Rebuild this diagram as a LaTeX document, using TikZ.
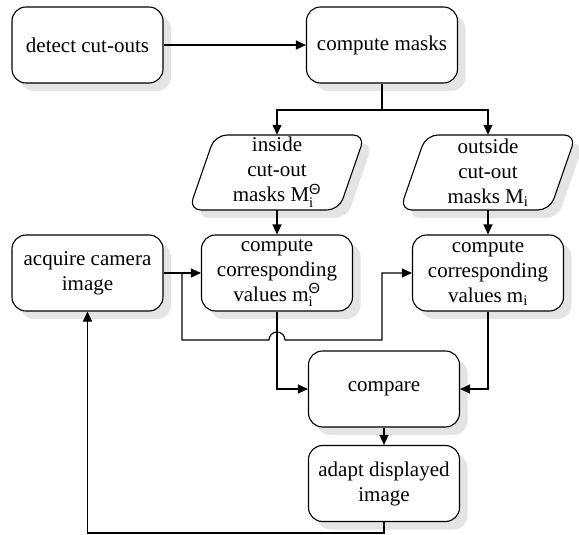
\documentclass[tikz,border=0pt]{standalone}
\usepackage{fontspec}
\setmainfont{Liberation Serif}
\newfontfamily\thetafont{Liberation Sans}
\usepackage{amsmath}
\usetikzlibrary{shadows,arrows.meta,calc}
\definecolor{shadowgray}{HTML}{E4E4E4}
\newcommand\paraboxshape[2]{%
  \fill[shadowgray,rounded corners=12pt] (#1-80,#2+45.5) -- (#1+70,#2+45.5) -- (#1+96,#2-29.5) -- (#1-54,#2-29.5) -- cycle;
  \draw[line width=1.1pt,fill=white,rounded corners=12pt] (#1-88,#2+37.5) -- (#1+62,#2+37.5) -- (#1+88,#2-37.5) -- (#1-62,#2-37.5) -- cycle;}
\begin{document}
\begin{tikzpicture}[x=1pt,y=-1pt,
  box/.style={draw, line width=1.1pt, rounded corners=14pt, fill=white,
    minimum width=151pt, minimum height=76pt, align=center, inner sep=1pt,
    font=\fontsize{21}{25}\selectfont,
    drop shadow={shadow xshift=8pt, shadow yshift=-8pt, fill=shadowgray, opacity=1}},
  para/.style={minimum width=150pt, minimum height=75pt, align=center, inner sep=0pt,
    font=\fontsize{21}{25}\selectfont},
  conn/.style={line width=1.1pt, -{Triangle[length=10pt,width=9pt]}},
  wire/.style={line width=1.1pt}]
\useasboundingbox (0,0) rectangle (579,535);
\paraboxshape{277}{172.5}
\paraboxshape{488}{172.5}
\node[box] (detect) at (87.5,45) {detect cut-outs};
\node[box] (masks) at (382,45) {compute masks};
\node[para] (inside) at (277,172.5) {inside\\cut-out\\masks M$_{\text{i}}^{\text{\thetafont Θ}}$};
\node[para] (outside) at (488,172.5) {outside\\cut-out\\masks M$_{\text{i}}$};
\node[box] (acquire) at (87.5,273) {acquire camera\\image};
\node[box] (cL) at (277,273) {compute\\corresponding\\values m$_{\text{i}}^{\text{\thetafont Θ}}$};
\node[box] (cR) at (488,273) {compute\\corresponding\\values m$_{\text{i}}$};
\node[box] (compare) at (384,389) {compare};
\node[box] (adapt) at (384,483.5) {adapt displayed\\image};
\coordinate (split) at (382,110);
\coordinate (b1) at (182,273);
\coordinate (b2) at (182,340);
\coordinate (h1) at (269,340);
\coordinate (b3) at (382,340);
\coordinate (c1) at (384,533);
\draw[conn] (detect) -- (masks);
\draw[wire] (masks.south) -- (split);
\draw[conn] (split) -| (inside.north);
\draw[conn] (split) -| (outside.north);
\draw[conn] (inside.south) -- (cL.north);
\draw[conn] (outside.south) -- (cR.north);
\draw[conn] (acquire) -- (cL);
\draw[conn] (b1) -- (b2) -- (h1) arc[start angle=180,end angle=0,radius=8pt] -- (b3) |- (cR.west);
\draw[conn] (cL.south) |- (compare.west);
\draw[conn] (cR.south) |- (compare.east);
\draw[conn] (compare) -- (adapt);
\draw[conn] (adapt.south) -- (c1) -| (acquire.south);
\end{tikzpicture}
\end{document}
